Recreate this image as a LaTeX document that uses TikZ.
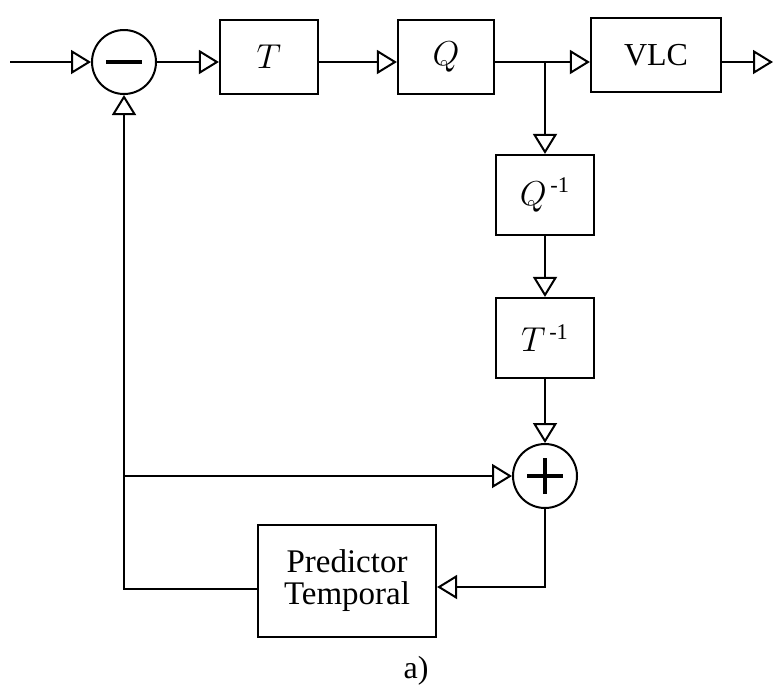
\documentclass[tikz,border=0pt]{standalone}
\usepackage{amsmath}
\usepackage{fontspec}
\setmainfont{Liberation Serif}
\usetikzlibrary{arrows.meta}
\tikzset{
  blk/.style={draw, line width=1.1pt, inner sep=0pt},
  sumnode/.style={draw, circle, line width=1pt, minimum size=32pt, inner sep=0pt},
  sig/.style={line width=0.9pt, -{Triangle[open, length=10pt, width=12pt, line width=1pt]}},
  wire/.style={line width=0.9pt}
}
\begin{document}
\begin{tikzpicture}[x=0.5pt, y=-0.5pt, font=\fontsize{16}{17}\selectfont]
    \useasboundingbox (0,0) rectangle (775,691);

    % forward path
    \node[sumnode] (minus) at (124,62) {};
    \draw[line width=2pt] ([xshift=-9pt]minus.center) -- ([xshift=9pt]minus.center);
    \node[blk, minimum width=49pt, minimum height=37pt] (t) at (269,57) {$T$};
    \node[blk, minimum width=48pt, minimum height=37pt] (q) at (446,57) {$Q$};
    \node[blk, minimum width=65pt, minimum height=37pt] (vlc) at (656,55) {VLC};

    % inverse path
    \node[blk, minimum width=49pt, minimum height=40pt] (qinv) at (545,195) {$Q^{\,\text{-1}}$};
    \node[blk, minimum width=49pt, minimum height=40pt] (tinv) at (545,338) {$T^{\,\text{-1}}$};
    \node[sumnode] (plus) at (545,476) {};
    \draw[line width=2pt] ([xshift=-9pt]plus.center) -- ([xshift=9pt]plus.center);
    \draw[line width=2pt] ([yshift=-9pt]plus.center) -- ([yshift=9pt]plus.center);

    \node[blk, minimum width=89pt, minimum height=56pt, align=center,
          font=\fontsize{16.5}{16}\selectfont] (pred) at (347,581) {Predictor\\Temporal};
    \node (lbl) at (416,671) {a)};

    \coordinate (in) at (10,62);
    \coordinate (out) at (773,62);
    \coordinate (split) at (qinv.north |- minus.east);
    \coordinate (tap) at (minus.south |- plus.west);

    % connectors
    \draw[sig] (in) -- (minus.west);
    \draw[sig] (minus.east) -- (t.west |- minus.east);
    \draw[sig] (t.east |- minus.east) -- (q.west |- minus.east);
    \draw[wire] (q.east |- minus.east) -- (split);
    \draw[sig] (split) -- (vlc.west |- minus.east);
    \draw[sig] (vlc.east |- minus.east) -- (out);
    \draw[sig] (split) -- (qinv.north);
    \draw[sig] (qinv.south) -- (tinv.north);
    \draw[sig] (tinv.south) -- (plus.north);
    \draw[sig] (plus.south) |- ([yshift=-3pt]pred.east);
    \draw[sig] ([yshift=-4pt]pred.west) -| (minus.south);
    \draw[sig] (tap) -- (plus.west);
\end{tikzpicture}
\end{document}
